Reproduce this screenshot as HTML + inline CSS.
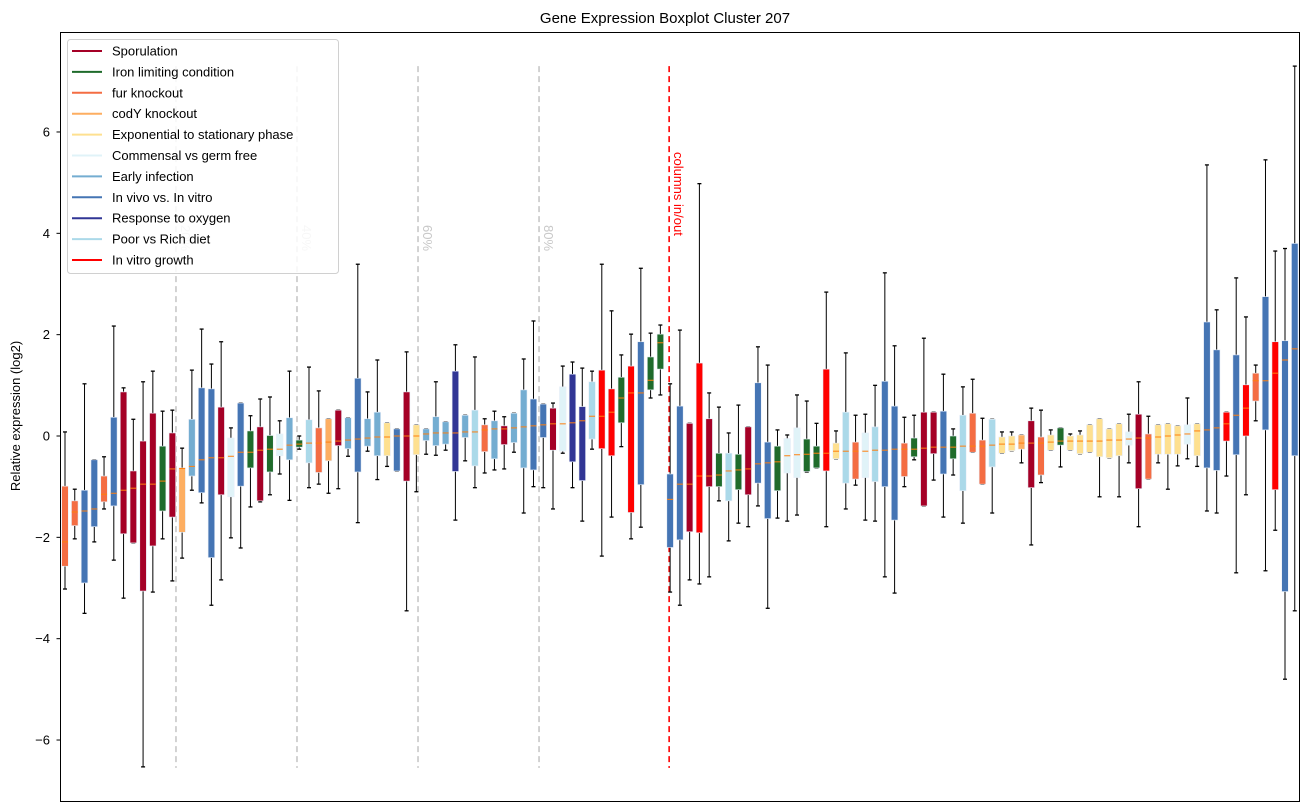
<!DOCTYPE html>
<html><head><meta charset="utf-8"><style>
body{margin:0;background:#fff;}
svg{display:block;font-family:"Liberation Sans","DejaVu Sans",sans-serif;}
</style></head><body>
<svg id="chart" width="1309" height="812" viewBox="0 0 1309 812">
<rect x="0" y="0" width="1309" height="812" fill="#fff"/>
<text x="665" y="23" font-size="15" text-anchor="middle">Gene Expression Boxplot Cluster 207</text>
<text transform="translate(20,416) rotate(-90)" font-size="13" text-anchor="middle">Relative expression (log2)</text>
<g id="yaxis"></g>
<g id="guides"></g>
<g id="boxes"></g>
<rect x="60.5" y="32.5" width="1239" height="769" fill="none" stroke="#000" stroke-width="1"/>
<g id="legend"></g>
</svg>
<script>
const groupNames=["Sporulation","Iron limiting condition","fur knockout","codY knockout","Exponential to stationary phase","Commensal vs germ free","Early infection","In vivo vs. In vitro","Response to oxygen","Poor vs Rich diet","In vitro growth"];
const groupColors=["#a50026","#1f6b2b","#f46d43","#fdae61","#fee090","#e0f3f8","#74add1","#4575b4","#313695","#abd9e9","#ff0000"];
const groups=[2,2,7,7,2,7,0,0,0,0,1,0,3,6,7,7,0,5,7,1,0,1,5,6,1,9,2,3,0,6,7,6,6,4,7,0,4,6,6,6,8,6,9,2,6,0,6,6,7,7,0,5,8,8,9,10,10,1,10,7,1,1,
7,7,0,10,0,1,9,1,0,7,7,1,5,5,1,1,10,4,9,2,5,9,7,7,2,1,0,0,7,1,9,2,2,9,4,4,3,0,2,4,1,4,4,4,4,4,4,5,0,2,4,4,4,5,4,7,7,10,7,10,2,7,10,7,7];
const lows=[-3.02,-2.03,-3.5,-2.09,-1.44,-2.45,-3.2,-2.11,-6.53,-3.08,-2.03,-2.86,-2.41,-1.07,-1.32,-3.34,-2.84,-2.01,-2.21,-1.4,-1.3,-1.16,-0.75,-1.27,-0.26,-1.02,-0.95,-1.13,-1.04,-0.4,-1.71,-0.3,-0.86,-0.6,-0.69,-3.45,-1.1,-0.36,-0.38,-0.28,-1.66,-0.49,-1.02,-0.73,-0.67,-0.65,-0.32,-1.52,-1.0,-1.02,-1.44,-0.34,-1.02,-1.68,-0.26,-2.37,-1.6,-0.21,-2.03,-1.8,0.75,0.81,
-3.08,-3.34,-2.84,-2.92,-2.78,-1.28,-2.07,-1.72,-1.79,-1.38,-3.4,-1.62,-1.68,-1.56,-0.71,-0.63,-1.79,-0.45,-1.44,-0.97,-1.66,-1.68,-2.78,-3.1,-1.0,-0.47,-1.38,-0.87,-1.6,-0.77,-1.72,-0.32,-0.95,-1.52,-0.34,-0.29,-0.53,-2.15,-0.92,-0.28,-0.61,-0.28,-0.35,-0.32,-1.2,-0.43,-1.2,-0.53,-1.79,-0.85,-0.53,-1.05,-0.59,-0.45,-0.6,-1.48,-1.52,-0.79,-2.7,-1.16,0.3,-2.66,-1.86,-4.8,-3.45];
const q1s=[-2.57,-1.77,-2.9,-1.79,-1.3,-1.38,-1.93,-2.11,-3.06,-2.17,-1.48,-1.6,-1.9,-0.79,-1.12,-2.4,-1.16,-1.2,-0.99,-0.63,-1.28,-0.71,-0.39,-0.47,-0.22,-0.53,-0.72,-0.49,-0.19,-0.25,-0.71,-0.2,-0.39,-0.39,-0.69,-0.89,-0.37,-0.09,-0.19,-0.16,-0.7,-0.03,-0.59,-0.31,-0.45,-0.17,-0.13,-0.63,-0.67,-0.03,-0.28,-0.3,-0.51,-0.88,-0.06,-0.25,-0.39,0.26,-1.51,-0.96,0.91,1.32,
-2.2,-2.05,-1.89,-1.91,-1.0,-1.0,-1.28,-1.06,-1.16,-0.93,-1.63,-1.08,-0.73,-0.82,-0.7,-0.63,-0.69,-0.45,-0.93,-0.85,-0.82,-0.9,-1.0,-1.66,-0.8,-0.41,-1.38,-0.35,-0.75,-0.45,-1.08,-0.32,-0.95,-0.61,-0.34,-0.29,-0.26,-1.02,-0.77,-0.28,-0.18,-0.28,-0.35,-0.32,-0.41,-0.43,-0.39,-0.18,-1.04,-0.85,-0.36,-0.36,-0.36,-0.16,-0.39,-0.63,-0.68,-0.1,-0.37,0,0.69,0.12,-1.06,-3.07,-0.39];
const medians=[-2.09,-1.5,-1.48,-1.44,-1.15,-1.13,-1.07,-1.03,-0.95,-0.95,-0.89,-0.65,-0.64,-0.6,-0.47,-0.43,-0.43,-0.4,-0.32,-0.32,-0.28,-0.26,-0.26,-0.18,-0.16,-0.14,-0.14,-0.12,-0.1,-0.08,-0.06,-0.04,-0.02,-0.02,0,0,0,0.04,0.06,0.06,0.06,0.08,0.08,0.12,0.14,0.14,0.16,0.18,0.2,0.22,0.24,0.24,0.26,0.3,0.39,0.39,0.47,0.75,0.85,0.85,1.1,1.84,
-1.25,-0.95,-0.95,-0.79,-0.79,-0.77,-0.69,-0.67,-0.65,-0.55,-0.53,-0.51,-0.39,-0.37,-0.36,-0.34,-0.34,-0.3,-0.3,-0.3,-0.3,-0.28,-0.28,-0.26,-0.26,-0.26,-0.24,-0.22,-0.22,-0.22,-0.2,-0.2,-0.2,-0.18,-0.16,-0.16,-0.14,-0.14,-0.14,-0.12,-0.1,-0.1,-0.1,-0.1,-0.1,-0.08,-0.08,-0.06,-0.04,-0.04,-0.02,0,0.02,0.04,0.1,0.12,0.16,0.24,0.41,0.55,1.09,1.09,1.24,1.5,1.72];
const q3s=[-0.99,-1.28,-1.07,-0.47,-0.79,0.37,0.87,-0.69,-0.1,0.45,-0.2,0.06,-0.63,0.33,0.95,0.93,0.57,-0.04,0.65,0.1,0.18,0.01,0.04,0.36,-0.08,0.32,0.16,0.34,0.51,0.36,1.14,0.34,0.47,0.26,0.14,0.87,0.22,0.14,0.38,0.28,1.28,0.41,0.51,0.22,0.3,0.2,0.45,0.91,0.73,0.63,0.55,0.97,1.22,0.58,1.07,1.3,0.93,1.16,1.38,1.86,1.56,2.01,
-0.75,0.59,0.25,1.44,0.34,-0.34,-0.34,-0.36,0.18,1.05,-0.12,-0.2,-0.05,0.16,-0.06,-0.2,1.32,-0.14,0.47,-0.12,0.06,0.18,1.08,0.59,-0.14,-0.04,0.47,0.47,0.49,0,0.41,0.45,-0.08,0.33,-0.02,0,0.02,0.3,-0.02,0.02,0.16,0,0.02,0.22,0.34,0.14,0.24,0.08,0.43,0.04,0.22,0.24,0.2,0.22,0.24,2.25,1.7,0.47,1.6,1.01,1.24,2.75,1.86,1.88,3.8];
const highs=[0.08,-1.05,1.03,-0.47,-0.41,2.17,0.95,0.33,1.07,1.28,0.49,0.51,-0.24,1.3,2.11,1.42,1.86,0.16,0.65,0.4,0.73,0.77,0.3,1.28,0,1.36,0.89,0.34,0.51,0.36,3.39,0.87,1.5,0.26,0.14,1.66,0.22,0.14,1.07,0.28,1.8,0.41,1.56,0.34,0.49,0.38,0.45,1.52,2.27,0.63,0.65,1.38,1.46,1.34,1.28,3.39,2.47,1.6,2.01,3.31,2.03,2.19,
1.03,2.09,0.25,4.98,0.85,0.57,0.06,0.61,0.18,1.76,1.4,0.12,0.02,0.81,0.69,0.25,2.84,0.1,1.64,0.41,0.43,1.0,3.22,1.78,0.37,0.41,1.93,0.47,1.22,0.14,0.97,1.12,0.35,0.33,0.08,0.08,0.02,0.55,0.51,0.12,0.16,0.04,0.1,0.22,0.34,0.14,0.24,0.43,1.07,0.39,0.22,0.24,0.2,0.75,0.24,5.35,2.49,0.47,3.12,2.35,1.4,5.45,3.65,3.7,7.3];
const yTicks=[6,4,2,0,-2,-4,-6];
const guidePositions=[11.37,23.77,36.17,48.57];
const guideLabels=["20%","40%","60%","80%"];
const splitPosition=61.9;

const NS="http://www.w3.org/2000/svg";
function xScale(i){return 65+i*9.76;}
function yScale(v){return 436-v*50.67;}
function mk(tag,attrs,parent){const e=document.createElementNS(NS,tag);for(const k in attrs)e.setAttribute(k,attrs[k]);parent.appendChild(e);return e;}

const yaxis=document.getElementById('yaxis');
yTicks.forEach(t=>{
  const y=yScale(t);
  const tk=mk('line',{x1:56.5,x2:60.5,y1:y,y2:y,stroke:'#000'},yaxis);
  
  
  const lb=mk('text',{x:50,y:y+4.5,'font-size':13,'text-anchor':'end'},yaxis);
  lb.textContent=(t<0?'\u2212':'')+Math.abs(t);
  
  
});

const guides=document.getElementById('guides');
const gTop=yScale(7.3),gBot=yScale(-6.55);
guidePositions.forEach((p,k)=>{
  const x=xScale(p);
  const l=mk('line',{x1:x,x2:x,y1:gTop,y2:gBot,stroke:'#c8c8c8','stroke-width':1.6,'stroke-dasharray':'6,4'},guides);
  
  
  const t=mk('text',{transform:`translate(${x+5},225) rotate(90)`,'font-size':13,fill:'#c8c8c8'},guides);
  t.textContent=guideLabels[k];
  
  
});
const sx=xScale(splitPosition);
const sl=mk('line',{x1:sx,x2:sx,y1:gTop,y2:gBot,stroke:'#ff0000','stroke-width':1.6,'stroke-dasharray':'6,4'},guides);


const st=mk('text',{transform:`translate(${sx+5},152) rotate(90)`,'font-size':13,fill:'#ff0000'},guides);
st.textContent='columns in/out';



const boxes=document.getElementById('boxes');
for(let i=0;i<groups.length;i++){
  const g=mk('g',{},boxes);
  
  
  const x=xScale(i);
  mk('line',{x1:x,x2:x,y1:yScale(highs[i]),y2:yScale(q3s[i]),stroke:'#000','stroke-width':1},g);
  mk('line',{x1:x,x2:x,y1:yScale(q1s[i]),y2:yScale(lows[i]),stroke:'#000','stroke-width':1},g);
  mk('line',{x1:x-2,x2:x+2,y1:yScale(highs[i]),y2:yScale(highs[i]),stroke:'#000','stroke-width':1.3},g);
  mk('line',{x1:x-2,x2:x+2,y1:yScale(lows[i]),y2:yScale(lows[i]),stroke:'#000','stroke-width':1.3},g);
  const yt=yScale(q3s[i]),yb=yScale(q1s[i]);
  mk('rect',{x:x-3.3,y:yt,width:6.6,height:Math.max(1,yb-yt),fill:groupColors[groups[i]],stroke:'#e8eef8','stroke-width':0.6},g);
  const ym=yScale(medians[i]);
  mk('line',{x1:x-3,x2:x+3,y1:ym,y2:ym,stroke:'#ff7f0e','stroke-width':1},g);
}

const legend=document.getElementById('legend');
const lb=mk('rect',{x:67.5,y:39.5,width:271,height:234,rx:3,fill:'#fff','fill-opacity':0.85,stroke:'#d0d0d0'},legend);


groupNames.forEach((n,k)=>{
  const y=51+k*20.9;
  const e=mk('g',{},legend);
  
  
  mk('line',{x1:72,x2:102,y1:y,y2:y,stroke:groupColors[k],'stroke-width':2},e);
  const t=mk('text',{x:112,y:y+4.5,'font-size':13},e);
  t.textContent=n;
});
</script>
</body></html>
